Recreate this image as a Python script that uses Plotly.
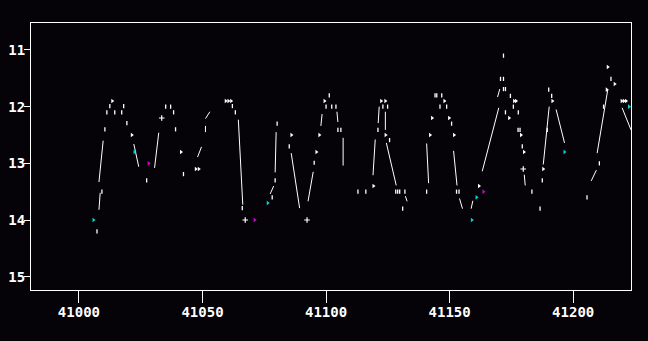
import plotly.graph_objects as go

# connected segments (None separates segments)
line_jd = [41008.1, 41008.6, None, 41008.1, 41009.8, None, 41022.2, 41024.2, None,
           41030.6, 41032.3, None, 41048.0, 41049.6, None, 41051.2, 41051.2, None,
           41051.2, 41053.0, None, 41064.5, 41066.3, None, 41077.4, 41078.8, None,
           41079.4, 41079.8, None, 41085.9, 41089.3, None, 41092.7, 41094.8, None,
           41097.9, 41098.4, None, 41104.4, 41104.8, None, 41106.9, 41106.9, None,
           41119.0, 41119.9, None, 41121.1, 41121.5, None, 41124.0, 41124.0, None,
           41124.4, 41128.4, None, 41132.1, 41132.8, None, 41140.7, 41141.5, None,
           41151.6, 41153.0, None, 41154.0, 41155.2, None, 41158.7, 41159.4, None,
           41163.2, 41169.9, None, 41169.4, 41170.3, None, 41180.2, 41180.6, None,
           41187.9, 41190.3, None, 41193.1, 41196.5, None, 41207.3, 41209.4, None,
           41209.7, 41214.0, None, 41219.8, 41223.4]
line_mag = [13.82, 13.52, None, 13.33, 12.60, None, 12.66, 13.06, None,
            13.08, 12.46, None, 12.89, 12.71, None, 12.34, 12.45, None,
            12.21, 12.09, None, 12.23, 13.73, None, 13.54, 13.40, None,
            13.16, 12.45, None, 12.82, 13.79, None, 13.67, 13.15, None,
            12.34, 12.13, None, 12.09, 12.27, None, 12.55, 13.04, None,
            13.21, 12.58, None, 12.29, 12.00, None, 12.09, 12.41, None,
            12.64, 13.39, None, 13.58, 13.67, None, 12.65, 13.35, None,
            12.78, 13.39, None, 13.62, 13.80, None, 13.80, 13.66, None,
            13.14, 12.02, None, 11.83, 11.69, None, 13.20, 13.39, None,
            13.02, 12.00, None, 12.05, 12.64, None, 13.31, 13.12, None,
            12.82, 11.70, None, 12.02, 12.41]

dot_jd = [41007.3, 41009.3, 41012.5, 41011.3, 41014.5, 41018.1, 41017.3, 41019.4, 41010.5,
          41027.4, 41035.1, 41037.1, 41038.3, 41039.1, 41042.3, 41062.1, 41063.3, 41066.1,
          41078.2, 41079.4, 41080.2, 41085.1, 41095.2, 41100.0, 41101.3, 41102.3, 41104.0,
          41104.8, 41106.0, 41112.9, 41116.1, 41121.0, 41123.0, 41124.9, 41125.7, 41128.2,
          41129.0, 41129.8, 41131.9, 41131.0, 41140.7, 41144.1, 41144.8, 41146.8, 41146.1,
          41148.8, 41150.8, 41152.8, 41153.8, 41170.6, 41171.8, 41171.8, 41171.8, 41172.6,
          41172.6, 41174.6, 41175.8, 41177.8, 41177.7, 41178.5, 41179.4, 41183.3, 41186.6,
          41187.5, 41189.5, 41190.1, 41191.3, 41205.6, 41210.6, 41212.3, 41215.3]
dot_mag = [14.20, 13.50, 11.99, 12.10, 12.10, 11.99, 12.10, 12.29, 12.40,
           13.30, 12.00, 12.00, 12.10, 12.40, 13.19, 11.99, 12.10, 13.79,
           13.60, 13.30, 12.30, 12.70, 12.99, 12.00, 11.80, 12.00, 12.00,
           12.41, 12.41, 13.50, 13.50, 12.41, 12.00, 12.00, 12.59, 13.50,
           13.50, 13.50, 13.50, 13.80, 13.50, 11.80, 11.80, 11.80, 12.00,
           12.00, 12.30, 13.50, 13.50, 11.51, 11.51, 11.10, 11.69, 11.69,
           12.10, 11.81, 12.00, 12.10, 12.41, 12.41, 12.70, 13.50, 13.80,
           13.30, 12.41, 11.70, 11.81, 13.60, 13.00, 12.00, 11.51]

tri_jd = [41013.5, 41021.4, 41041.3, 41047.3, 41048.5, 41059.4, 41060.5, 41061.6, 41086.0,
          41096.1, 41097.3, 41099.4, 41119.2, 41122.3, 41124.0, 41124.1, 41142.1, 41142.9,
          41147.9, 41149.8, 41151.8, 41161.9, 41174.1, 41176.1, 41176.9, 41178.9, 41180.1,
          41187.9, 41191.6, 41214.0, 41216.8, 41213.6, 41219.6, 41220.5, 41221.4]
tri_mag = [11.90, 12.50, 12.80, 13.10, 13.10, 11.90, 11.90, 11.90, 12.50,
           12.80, 12.50, 11.90, 13.40, 11.90, 11.90, 12.50, 12.50, 12.20,
           11.90, 12.20, 12.50, 13.40, 12.20, 11.90, 11.90, 12.50, 12.80,
           13.10, 11.90, 11.30, 11.60, 11.70, 11.90, 11.90, 11.90]

plus_jd = [41033.5, 41067.3, 41092.3, 41179.8]
plus_mag = [12.20, 14.00, 14.00, 13.10]

cyan_jd = [41005.9, 41022.5, 41076.4, 41159.0, 41160.9, 41196.5, 41222.6]
cyan_mag = [14.00, 12.80, 13.70, 14.00, 13.60, 12.80, 12.00]

magenta_jd = [41028.2, 41071.1, 41163.7]
magenta_mag = [13.00, 14.00, 13.50]

x_ticks = [41000, 41050, 41100, 41150, 41200]
y_ticks = [11, 12, 13, 14, 15]

fig = go.Figure()
fig.add_trace(go.Scatter(x=line_jd, y=line_mag, mode="lines",
                         line=dict(color="white", width=1), connectgaps=False,
                         hoverinfo="skip"))
fig.add_trace(go.Scatter(x=dot_jd, y=dot_mag, mode="markers",
                         marker=dict(symbol="line-ns", size=3, color="white",
                                     line=dict(color="white", width=1.3))))
fig.add_trace(go.Scatter(x=tri_jd, y=tri_mag, mode="markers",
                         marker=dict(symbol="triangle-right", size=4, color="white",
                                     line=dict(width=0))))
fig.add_trace(go.Scatter(x=plus_jd, y=plus_mag, mode="markers",
                         marker=dict(symbol="cross-thin", size=4, color="white",
                                     line=dict(color="white", width=1.2))))
fig.add_trace(go.Scatter(x=cyan_jd, y=cyan_mag, mode="markers",
                         marker=dict(symbol="triangle-right", size=4, color="#00d8d8",
                                     line=dict(width=0))))
fig.add_trace(go.Scatter(x=magenta_jd, y=magenta_mag, mode="markers",
                         marker=dict(symbol="triangle-right", size=4, color="#d800d8",
                                     line=dict(width=0))))

axis_font = dict(family="DejaVu Sans Mono", size=14, color="white", weight="bold")
fig.update_layout(
    width=648, height=341,
    margin=dict(l=31, r=17, t=23, b=51),
    paper_bgcolor="#050308", plot_bgcolor="#050308",
    showlegend=False,
    xaxis=dict(range=[40980.6, 41223.4], tickvals=x_ticks,
               ticktext=[str(v) for v in x_ticks], automargin=False,
               ticks="outside", ticklen=12, tickwidth=1, tickcolor="white",
               showline=True, linecolor="white", linewidth=1, mirror=True,
               showgrid=False, zeroline=False, tickfont=axis_font,
               ticklabelstandoff=-3),
    yaxis=dict(range=[15.235, 10.524], tickvals=y_ticks,
               ticktext=[str(v) for v in y_ticks], automargin=False,
               ticks="outside", ticklen=6, tickwidth=1, tickcolor="white",
               showline=True, linecolor="white", linewidth=1, mirror=True,
               showgrid=False, zeroline=False, tickfont=axis_font,
               ticklabelstandoff=-4),
)

fig.write_html("out.html")
